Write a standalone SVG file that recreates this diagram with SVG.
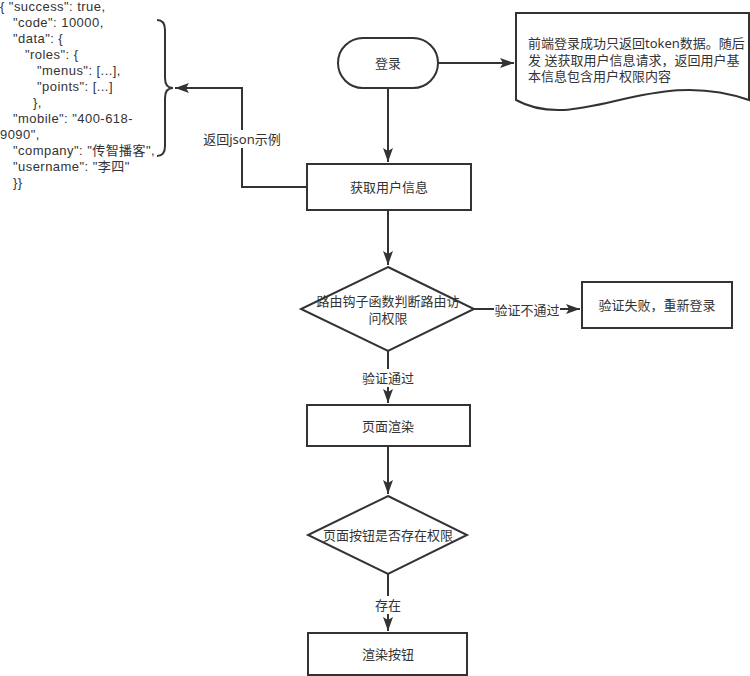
<svg xmlns="http://www.w3.org/2000/svg" width="750" height="676" viewBox="0 0 750 676">
<style>
.s{fill:#fff;stroke:#333;stroke-width:2}
.c{fill:none;stroke:#333;stroke-width:2}
.t{font-family:"Noto Sans","Noto Sans CJK SC",sans-serif;font-size:13px;fill:#333}
.j{font-family:"Liberation Sans","Noto Sans CJK SC",sans-serif;font-size:13px;letter-spacing:0.45px;fill:#333}
.m{text-anchor:middle;dominant-baseline:central}
.lb{fill:#fff;stroke:none}
</style>
<defs>
<marker id="a" markerUnits="userSpaceOnUse" markerWidth="16" markerHeight="12" refX="14" refY="5" orient="auto">
<path d="M0,0 L14,5 L0,10 L3,5 Z" fill="#333"/>
</marker>
</defs>
<rect width="750" height="676" fill="#fff"/>
<g id="json">
<text class="j" x="0" y="11">{ "success": true,</text>
<text class="j" x="13" y="27">"code": 10000,</text>
<text class="j" x="13" y="43">"data": {</text>
<text class="j" x="25" y="59">"roles": {</text>
<text class="j" x="37" y="75">"menus": [...],</text>
<text class="j" x="37" y="91">"points": [...]</text>
<text class="j" x="33" y="107">},</text>
<text class="j" x="13" y="123">"mobile": "400-618-</text>
<text class="j" x="0" y="139">9090",</text>
<text class="j" x="13" y="155">"company": "传智播客",</text>
<text class="j" x="13" y="171">"username": "李四"</text>
<text class="j" x="13" y="187">}}</text>
</g>
<g id="brace">
<path class="c" d="M157,20 Q165,20 165,30 V78 Q165,88 173,88 Q165,88 165,98 V146 Q165,156 157,156"/>
</g>
<g id="connectors">
<path class="c" d="M438,63 H514" marker-end="url(#a)"/>
<path class="c" d="M388,88 V162" marker-end="url(#a)"/>
<path class="c" d="M307,187 H242 V88 H175" marker-end="url(#a)"/>
<path class="c" d="M388,210 V265" marker-end="url(#a)"/>
<path class="c" d="M474,309 H580" marker-end="url(#a)"/>
<path class="c" d="M388,351 V403" marker-end="url(#a)"/>
<path class="c" d="M388,446 V494" marker-end="url(#a)"/>
<path class="c" d="M388,574 V631" marker-end="url(#a)"/>
<rect class="lb" x="202" y="130" width="80" height="18"/>
<text class="t m" x="242" y="139">返回json示例</text>
<rect class="lb" x="494" y="301" width="66" height="18"/>
<text class="t m" x="527" y="310">验证不通过</text>
<rect class="lb" x="361" y="369" width="54" height="18"/>
<text class="t m" x="388" y="378">验证通过</text>
<rect class="lb" x="374" y="596" width="28" height="18"/>
<text class="t m" x="388" y="605">存在</text>
</g>
<g id="login">
<rect class="s" x="338" y="38" width="100" height="50" rx="25"/>
<text class="t m" x="388" y="63">登录</text>
</g>
<g id="doc">
<path class="s" d="M516,13 H749 V100 C650,65 580,135 516,100 Z"/>
<text class="t" x="528" y="48">前端登录成功只返回token数据。随后</text>
<text class="t" x="528" y="64.5">发 送获取用户信息请求，返回用户基</text>
<text class="t" x="528" y="81">本信息包含用户权限内容</text>
</g>
<g id="getinfo">
<rect class="s" x="307" y="164" width="164" height="46"/>
<text class="t m" x="389" y="187">获取用户信息</text>
</g>
<g id="decision1">
<path class="s" d="M388,267 L474,309 L388,351 L301,309 Z"/>
<text class="t m" x="388" y="301">路由钩子函数判断路由访</text>
<text class="t m" x="388" y="318">问权限</text>
</g>
<g id="fail">
<rect class="s" x="582" y="282" width="150" height="46"/>
<text class="t m" x="657" y="305">验证失败，重新登录</text>
</g>
<g id="render">
<rect class="s" x="307" y="405" width="163" height="41"/>
<text class="t m" x="388" y="426">页面渲染</text>
</g>
<g id="decision2">
<path class="s" d="M388,496 L467,535 L388,574 L308,535 Z"/>
<text class="t m" x="388" y="535">页面按钮是否存在权限</text>
</g>
<g id="renderbtn">
<rect class="s" x="308" y="633" width="159" height="42"/>
<text class="t m" x="388" y="654">渲染按钮</text>
</g>
</svg>
